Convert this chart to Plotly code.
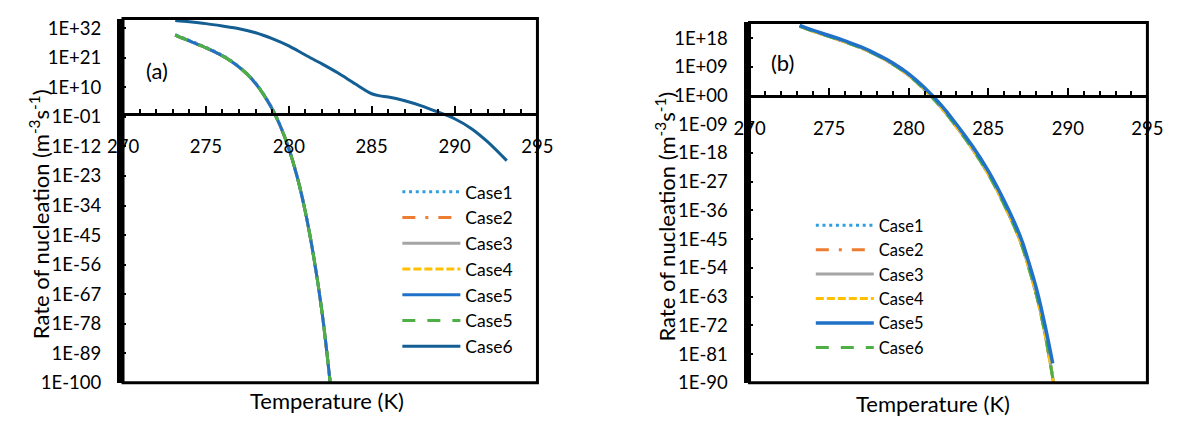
import plotly.graph_objects as go

W, H = 1178, 421
FONT = "Lato"

# ---------------- data (log10 of nucleation rate, m^-3 s^-1) ----------------
# Panel (a): cases 1-5 practically coincide
T_a = [273.15, 273.5, 274.0, 274.5, 275.0, 275.5, 276.0, 276.5, 277.0, 277.5,
       278.0, 278.5, 279.0, 279.5, 280.0, 280.5, 281.0, 281.5, 282.0, 282.5]
logJ_a_case1 = [29.6, 28.7, 27.5, 26.2, 24.9, 23.5, 21.9, 20.0, 17.7, 15.0,
                11.6, 7.3, 2.1, -4.4, -12.6, -23.0, -36.2, -52.8, -73.3, -100.0]
logJ_a_case2_4 = [29.4, 28.5, 27.3, 26.0, 24.7, 23.3, 21.7, 19.8, 17.5, 14.8,
                  11.4, 7.1, 1.9, -4.6, -12.8, -23.2, -36.4, -53.0, -73.5, -100.0]
logJ_a_case5 = [29.4, 28.5, 27.3, 26.0, 24.7, 23.3, 21.7, 19.8, 17.5, 14.8,
                11.4, 7.1, 1.9, -4.6, -12.8, -23.2, -36.4, -53.0, -73.5, -100.0]
T_a6 = [273.15, 274, 275, 276, 277, 278, 279, 280, 281, 282, 283, 284, 285,
        285.5, 286, 287, 288, 289, 290, 291, 292, 293.15]
logJ_a_case6 = [34.9, 34.4, 33.7, 32.8, 31.8, 30.3, 28.1, 25.4, 22.0, 18.7, 15.2,
                11.3, 7.6, 6.8, 6.4, 5.0, 3.1, 0.8, -1.7, -5.3, -10.3, -17.3]

# Panel (b)
T_b5 = [273.15, 274, 275, 276, 277, 278, 279, 280, 281, 282, 283, 284, 285, 286,
        287, 287.5, 288, 288.5, 289.05]
logJ_b_case5 = [22.0, 20.4, 18.8, 17.1, 15.2, 12.9, 10.2, 6.8, 2.4, -2.8, -9.0,
                -15.8, -23.6, -33.0, -44.0, -51.5, -60.0, -70.5, -83.9]
T_b = [273.15, 274, 275, 276, 277, 278, 279, 280, 281, 282, 283, 284, 285, 286,
       287, 287.5, 288, 288.5, 289.1]
logJ_b_others = [21.7, 20.1, 18.5, 16.8, 14.9, 12.6, 9.8, 6.3, 1.8, -3.5, -9.8,
                 -16.7, -24.6, -34.2, -45.5, -53.2, -62.0, -73.0, -90.0]

x_ticks = [270, 275, 280, 285, 290, 295]
ya_exps = [-100, -89, -78, -67, -56, -45, -34, -23, -12, -1, 10, 21, 32]
ya_labels = ["1E-100", "1E-89", "1E-78", "1E-67", "1E-56", "1E-45", "1E-34",
             "1E-23", "1E-12", "1E-01", "1E+10", "1E+21", "1E+32"]
yb_exps = [-90, -81, -72, -63, -54, -45, -36, -27, -18, -9, 0, 9, 18]
yb_labels = ["1E-90", "1E-81", "1E-72", "1E-63", "1E-54", "1E-45", "1E-36",
             "1E-27", "1E-18", "1E-09", "1E+00", "1E+09", "1E+18"]

# ---------------- styles ----------------
C1, C2, C3, C4 = "#2F9FE0", "#ED7D31", "#A5A5A5", "#FFC000"
C5, CG, C6 = "#1F72C8", "#4EAF45", "#135E93"
LW = 3

def pw(v):
    return [10.0 ** x for x in v]

fig = go.Figure()

def add(x, logy, name, color, dash, xa, ya, leg, rank, width=LW, smooth=1.0):
    fig.add_trace(go.Scatter(
        x=x, y=pw(logy), name=name, mode="lines",
        line=dict(color=color, width=width, dash=dash, shape="spline", smoothing=smooth),
        xaxis=xa, yaxis=ya, legend=leg, legendrank=rank, hoverinfo="skip"))

# panel (a)
add(T_a, logJ_a_case1, "Case1", C1, "3px,3.7px", "x", "y", "legend", 1)
add(T_a, logJ_a_case2_4, "Case2", C2, "13px,10px,3px,10px", "x", "y", "legend", 2)
add(T_a, logJ_a_case2_4, "Case3", C3, "solid", "x", "y", "legend", 3)
add(T_a, logJ_a_case2_4, "Case4", C4, "8px,3px", "x", "y", "legend", 4)
add(T_a, logJ_a_case5, "Case5", C5, "solid", "x", "y", "legend", 5)
add(T_a, logJ_a_case5, "Case5", CG, "13px,12px", "x", "y", "legend", 6)
add(T_a6, logJ_a_case6, "Case6", C6, "solid", "x", "y", "legend", 7, smooth=0.8)

# panel (b)
add(T_b, logJ_b_others, "Case1", C1, "3px,3.7px", "x2", "y2", "legend2", 1, smooth=1.3)
add(T_b, logJ_b_others, "Case2", C2, "13px,10px,3px,10px", "x2", "y2", "legend2", 2, smooth=1.3)
add(T_b, logJ_b_others, "Case3", C3, "solid", "x2", "y2", "legend2", 3, smooth=1.3)
add(T_b, logJ_b_others, "Case4", C4, "8px,3px", "x2", "y2", "legend2", 4, smooth=1.3)
add(T_b, logJ_b_others, "Case6", CG, "13px,12px", "x2", "y2", "legend2", 6, smooth=1.3)
add(T_b5, logJ_b_case5, "Case5", C5, "solid", "x2", "y2", "legend2", 5, width=3.5, smooth=1.3)

# ---------------- layout ----------------
def px_x(p):
    return p / W

def px_y(p):
    return 1 - p / H

A_L, A_R, A_T, A_B = 110, 536, 17, 392
B_L, B_R, B_T, B_B = 754, 1163, 21, 392
ya_range = [-100, 35.6]
yb_range = [-90, 22.9]

ya_dom = [px_y(A_B), px_y(A_T)]
yb_dom = [px_y(B_B), px_y(B_T)]
pos_a = ya_dom[0] + (0 - ya_range[0]) / (ya_range[1] - ya_range[0]) * (ya_dom[1] - ya_dom[0])
pos_b = yb_dom[0] + (0 - yb_range[0]) / (yb_range[1] - yb_range[0]) * (yb_dom[1] - yb_dom[0])

tickfont = dict(family=FONT, size=18.5, color="black")

def xaxis(dom, pos):
    return dict(domain=dom, range=[270, 295], anchor="free", position=pos,
                showline=True, linecolor="black", linewidth=3,
                tickmode="array", tickvals=x_ticks, ticks="inside", ticklen=7,
                tickwidth=2, tickcolor="black", ticklabelstandoff=15,
                minor=dict(dtick=1, tick0=270, ticks="inside", ticklen=4, tickwidth=2,
                           tickcolor="black", showgrid=False),
                showgrid=False, zeroline=False, tickfont=tickfont)

def yaxis(dom, rng, exps, labels, anchor):
    return dict(domain=dom, type="log", range=rng, anchor=anchor,
                showline=True, linecolor="black", linewidth=6,
                tickmode="array", tickvals=[10.0 ** e for e in exps], ticktext=labels,
                ticks="inside", ticklen=3, tickwidth=2, tickcolor="black",
                ticklabelstandoff=12, showgrid=False, zeroline=False,
                tickfont=tickfont)

fig.update_layout(
    width=W, height=H, margin=dict(l=0, r=0, t=0, b=0),
    paper_bgcolor="white", plot_bgcolor="white",
    xaxis=xaxis([px_x(A_L), px_x(A_R)], pos_a),
    yaxis=yaxis(ya_dom, ya_range, ya_exps, ya_labels, "x"),
    xaxis2=xaxis([px_x(B_L), px_x(B_R)], pos_b),
    yaxis2=yaxis(yb_dom, yb_range, yb_exps, yb_labels, "x2"),
    legend=dict(x=px_x(392), y=px_y(177), xanchor="left", yanchor="top",
                font=dict(family=FONT, size=17.5, color="black"),
                bgcolor="rgba(0,0,0,0)", itemwidth=58, traceorder="normal"),
    legend2=dict(x=px_x(817), y=px_y(212), xanchor="left", yanchor="top",
                 font=dict(family=FONT, size=16.5, color="black"),
                 bgcolor="rgba(0,0,0,0)", itemwidth=58, traceorder="normal"),
    showlegend=True,
)

# plot-area frames
for xr, yr in (("x", "y"), ("x2", "y2")):
    fig.add_shape(type="rect", xref=f"{xr} domain", yref=f"{yr} domain",
                  x0=0, x1=1, y0=0, y1=1, line=dict(color="black", width=3),
                  layer="above")

title_font = dict(family=FONT, size=22, color="black")
ytitle = "Rate of nucleation (m<sup>-3</sup>s<sup>-1</sup>)"
ann = [
    (24, 218, ytitle, -90, title_font),
    (668, 221, ytitle, -90, title_font),
    (320, 410, "Temperature (K)", 0, title_font),
    (943, 413, "Temperature (K)", 0, title_font),
    (145, 70, "(a)", 0, dict(family=FONT, size=22, color="black")),
    (788, 62, "(b)", 0, dict(family=FONT, size=22, color="black")),
]
for x, y, t, ang, f in ann:
    fig.add_annotation(x=px_x(x), y=px_y(y), xref="paper", yref="paper", text=t,
                       showarrow=False, textangle=ang, font=f,
                       xanchor="center", yanchor="middle")

fig.write_html("out.html", config={"displayModeBar": False},
               post_script="document.body.style.margin='0px';"
                           "document.body.style.overflow='hidden';")
